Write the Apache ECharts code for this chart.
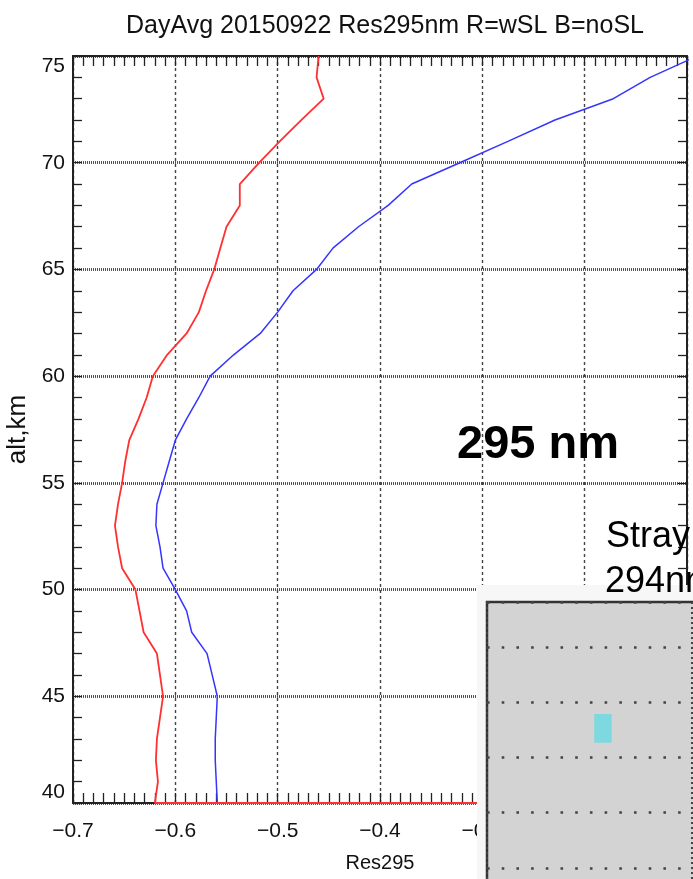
<!DOCTYPE html>
<html>
<head>
<meta charset="utf-8">
<script src="https://cdn.jsdelivr.net/npm/echarts@6/dist/echarts.min.js"></script>
<style>
html,body{margin:0;padding:0;background:#fff;}
#chart{width:693px;height:879px;}
</style>
</head>
<body>
<div id="chart"></div>
<script>
// ---- data ----
const titleText = 'DayAvg 20150922 Res295nm R=wSL B=noSL';
const altitudes = [75,74,73,72,71,70,69,68,67,66,65,64,63,62,61,60,59,58,57,56,55,54,53,52,51,50,49,48,47,46,45,44,43,42,41,40];
const redRes = [-0.460,-0.462,-0.455,-0.477,-0.498,-0.518,-0.537,-0.537,-0.550,-0.556,-0.562,-0.570,-0.577,-0.589,-0.608,-0.622,-0.628,-0.636,-0.645,-0.649,-0.652,-0.656,-0.659,-0.656,-0.652,-0.639,-0.635,-0.631,-0.618,-0.615,-0.612,-0.615,-0.618,-0.619,-0.617,-0.620];
const blueRes = [-0.090,-0.136,-0.172,-0.229,-0.275,-0.322,-0.369,-0.392,-0.421,-0.446,-0.462,-0.485,-0.500,-0.517,-0.543,-0.566,-0.577,-0.589,-0.600,-0.606,-0.612,-0.618,-0.619,-0.615,-0.612,-0.600,-0.589,-0.584,-0.569,-0.564,-0.559,-0.560,-0.561,-0.561,-0.560,-0.559];
const redFloorAlt = 40;
const redFloorRes = -0.10;
const xRange = [-0.7, -0.1];
const yRange = [40, 75];
const xName = 'Res295';
const yName = 'alt,km';
const bigLabel = '295 nm';
const strayLines = ['Stray', '294nm'];
// inset (pasted panel) : one cyan cell [x0, x1, y0, y1]
const insetCells = [[0.524, 0.609, 3.265, 3.784]];

// ---- build ----
const FONT = "'Liberation Sans', Arial, sans-serif";
const redData = altitudes.map((a, i) => [redRes[i], a]).concat([[redFloorRes, redFloorAlt]]);
const blueData = altitudes.map((a, i) => [blueRes[i], a]);
const fmtX = v => (v < 0 ? '\u2212' : '') + Math.abs(v).toFixed(1);

const frame = { show: true, onZero: false, lineStyle: { color: '#222', width: 2 } };
const tickStyle = { color: '#222', width: 1.3 };

const chart = echarts.init(document.getElementById('chart'), null, { renderer: 'canvas' });
chart.setOption({
  backgroundColor: '#ffffff',
  animation: false,
  title: {
    text: titleText, left: 380, textAlign: 'center', top: 9,
    textStyle: { fontFamily: FONT, fontSize: 25, fontWeight: 'normal', color: '#111' }
  },
  grid: [
    { left: 73, right: 6, top: 56, bottom: 76, show: false, containLabel: false, outerBoundsMode: 'none' },
    { left: 487, top: 602, width: 409.4, height: 321.2, show: true, containLabel: false, outerBoundsMode: 'none',
      backgroundColor: '#d3d3d3', borderColor: '#333', borderWidth: 2.5, z: 60 }
  ],
  xAxis: [
    {
      type: 'value', gridIndex: 0, position: 'bottom', min: xRange[0], max: xRange[1], interval: 0.1,
      axisLine: frame,
      axisTick: { show: true, inside: true, length: 10, lineStyle: tickStyle },
      minorTick: { show: true, splitNumber: 10, length: 10, lineStyle: tickStyle },
      axisLabel: { show: true, margin: 18, fontFamily: FONT, fontSize: 21, color: '#111', formatter: fmtX },
      splitLine: { show: true, lineStyle: { color: '#444', width: 1.4, type: [3, 3] } },
      name: xName, nameLocation: 'middle', nameGap: 50,
      nameTextStyle: { fontFamily: FONT, fontSize: 20, color: '#111' }
    },
    {
      type: 'value', gridIndex: 0, position: 'top', min: xRange[0], max: xRange[1], interval: 0.1,
      axisLine: frame,
      axisTick: { show: true, inside: true, length: 10, lineStyle: tickStyle },
      minorTick: { show: true, splitNumber: 10, length: 10, lineStyle: tickStyle },
      axisLabel: { show: false }, splitLine: { show: false }
    },
    {
      type: 'value', gridIndex: 1, min: 0, max: 2, interval: 1, z: 61,
      axisLine: { show: false }, axisTick: { show: false }, axisLabel: { show: false },
      splitLine: { show: true, lineStyle: { color: '#444', width: 2, type: [2, 3] } }
    }
  ],
  yAxis: [
    {
      type: 'value', gridIndex: 0, position: 'left', min: yRange[0], max: yRange[1], interval: 5,
      axisLine: frame,
      axisTick: { show: true, inside: true, length: 9, lineStyle: tickStyle },
      minorTick: { show: true, splitNumber: 5, length: 9, lineStyle: tickStyle },
      axisLabel: { show: true, margin: 8, fontFamily: FONT, fontSize: 21, color: '#111',
        verticalAlignMinLabel: 'bottom', verticalAlignMaxLabel: 'top' },
      splitLine: { show: true, lineStyle: { color: '#4a4a4a', width: 2.8, type: [1, 1] } },
      name: yName, nameLocation: 'middle', nameGap: 37, nameRotate: 90,
      nameTextStyle: { fontFamily: FONT, fontSize: 26, color: '#111' }
    },
    {
      type: 'value', gridIndex: 0, position: 'right', min: yRange[0], max: yRange[1], interval: 5,
      axisLine: frame,
      axisTick: { show: true, inside: true, length: 9, lineStyle: tickStyle },
      minorTick: { show: true, splitNumber: 5, length: 9, lineStyle: tickStyle },
      axisLabel: { show: false }, splitLine: { show: false }
    },
    {
      type: 'value', gridIndex: 1, min: 0, max: 5.81, interval: 1, z: 61,
      axisLine: { show: false }, axisTick: { show: false }, axisLabel: { show: false },
      splitLine: { show: true, lineStyle: { color: '#444', width: 2.6, type: [2.6, 12.1] } }
    }
  ],
  series: [
    {
      name: 'noSL', type: 'line', xAxisIndex: 0, yAxisIndex: 0, data: blueData,
      showSymbol: false, symbol: 'none', clip: true,
      lineStyle: { color: '#3535ff', width: 1.5 }, z: 3
    },
    {
      name: 'wSL', type: 'line', xAxisIndex: 0, yAxisIndex: 0, data: redData,
      showSymbol: false, symbol: 'none', clip: true,
      lineStyle: { color: '#ff3030', width: 1.8 }, z: 4
    },
    {
      name: 'inset', type: 'custom', xAxisIndex: 2, yAxisIndex: 2, data: insetCells, z: 62,
      renderItem: function (params, api) {
        const p0 = api.coord([api.value(0), api.value(3)]);
        const p1 = api.coord([api.value(1), api.value(2)]);
        return { type: 'rect', shape: { x: p0[0], y: p0[1], width: p1[0] - p0[0], height: p1[1] - p0[1] },
          style: { fill: '#7dd8df' } };
      }
    }
  ],
  graphic: [
    { type: 'rect', z: 50, silent: true, shape: { x: 477, y: 585, width: 230, height: 300 }, style: { fill: '#f7f7f7' } },
    { type: 'text', z: 100, silent: true, x: 457, y: 445,
      style: { text: bigLabel, font: "bold 47px 'Liberation Sans', Arial, sans-serif", fill: '#000', verticalAlign: 'middle' } },
    { type: 'text', z: 100, silent: true, x: 606, y: 537,
      style: { text: strayLines[0], font: "36px 'Liberation Sans', Arial, sans-serif", fill: '#000', verticalAlign: 'middle' } },
    { type: 'text', z: 100, silent: true, x: 605, y: 582,
      style: { text: strayLines[1], font: "36px 'Liberation Sans', Arial, sans-serif", fill: '#000', verticalAlign: 'middle' } }
  ]
});
</script>
</body>
</html>
